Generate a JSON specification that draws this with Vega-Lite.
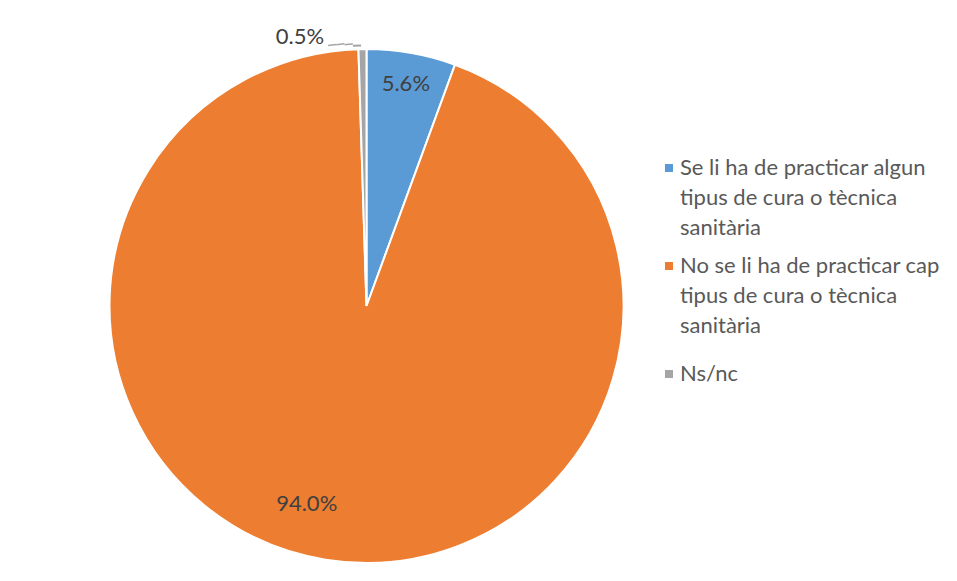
{
  "$schema": "https://vega.github.io/schema/vega-lite/v6.json",
  "width": 733,
  "height": 612,
  "autosize": "none",
  "padding": {"left": 0, "top": 0, "right": 224, "bottom": 0},
  "background": "white",
  "config": {"view": {"stroke": null}, "style": {"guide-label": {"lineHeight": 30}}},
  "data": {
    "values": [
      {"id": 1, "category": "Se li ha de practicar algun tipus de cura o tècnica sanitària", "share": 0.056},
      {"id": 2, "category": "No se li ha de practicar cap tipus de cura o tècnica sanitària", "share": 0.940},
      {"id": 3, "category": "Ns/nc", "share": 0.005}
    ]
  },
  "encoding": {
    "theta": {"field": "share", "type": "quantitative", "stack": true},
    "order": {"field": "id", "type": "quantitative"}
  },
  "layer": [
    {
      "mark": {"type": "arc", "outerRadius": 257, "stroke": "white", "strokeWidth": 2},
      "encoding": {
        "color": {
          "field": "category",
          "type": "nominal",
          "scale": {
            "domain": ["Se li ha de practicar algun tipus de cura o tècnica sanitària", "No se li ha de practicar cap tipus de cura o tècnica sanitària", "Ns/nc"],
            "range": ["#5B9BD5", "#ED7D31", "#A5A5A5"]
          },
          "legend": {
            "title": null,
            "orient": "none",
            "legendX": 658,
            "legendY": 157,
            "values": ["Se li ha de practicar algun tipus de cura o tècnica sanitària", "No se li ha de practicar cap tipus de cura o tècnica sanitària"],
            "symbolType": "square",
            "symbolSize": 64,
            "symbolStrokeWidth": 0,
            "labelFont": "Lato",
            "labelFontSize": 22,
            "labelColor": "#595959",
            "labelLimit": 400,
            "labelOffset": 0,
            "rowPadding": 16,
            "labelExpr": "indexof(datum.label, 'algun') > 0 ? ['Se li ha de practicar algun', 'tipus de cura o tècnica', 'sanitària'] : ['No se li ha de practicar cap', 'tipus de cura o tècnica', 'sanitària']",
            "encode": {"labels": {"update": {"lineHeight": {"value": 30}}}}
          }
        }
      }
    },
    {
      "mark": {"type": "arc", "innerRadius": 262.5, "outerRadius": 264, "thetaOffset": -0.115},
      "encoding": {
        "fill": {
          "field": "id",
          "type": "nominal",
          "scale": {"domain": [1, 2, 3], "range": ["#5B9BD5", "#ED7D31", "#A5A5A5"]},
          "legend": {
            "title": null,
            "orient": "none",
            "legendX": 658,
            "legendY": 363,
            "values": [3],
            "labelExpr": "'Ns/nc'",
            "symbolType": "square",
            "symbolSize": 64,
            "symbolStrokeWidth": 0,
            "labelFont": "Lato",
            "labelFontSize": 22,
            "labelColor": "#595959",
            "labelLimit": 400,
            "labelOffset": 0
          }
        },
        "opacity": {"condition": {"test": "datum.id == 3", "value": 1}, "value": 0}
      }
    },
    {
      "mark": {"type": "arc", "innerRadius": 262.3, "outerRadius": 263.8, "thetaOffset": -0.0836, "color": "#A5A5A5"},
      "encoding": {
        "opacity": {"condition": {"test": "datum.id == 3", "value": 1}, "value": 0}
      }
    },
    {
      "mark": {"type": "arc", "innerRadius": 261.5, "outerRadius": 263, "thetaOffset": -0.0522, "color": "#A5A5A5"},
      "encoding": {
        "opacity": {"condition": {"test": "datum.id == 3", "value": 1}, "value": 0}
      }
    },
    {
      "mark": {"type": "arc", "innerRadius": 259.5, "outerRadius": 261.5, "thetaOffset": -0.0208, "color": "#A5A5A5"},
      "encoding": {
        "opacity": {"condition": {"test": "datum.id == 3", "value": 1}, "value": 0}
      }
    },
    {
      "mark": {"type": "text", "radius": 225, "font": "Lato", "fontSize": 22, "color": "#404040"},
      "encoding": {
        "text": {"condition": {"test": "datum.id == 1", "field": "share", "type": "quantitative", "format": ".1%"}, "value": ""}
      }
    },
    {
      "mark": {"type": "text", "radius": 207, "thetaOffset": 0.133, "font": "Lato", "fontSize": 22, "color": "#404040"},
      "encoding": {
        "text": {"condition": {"test": "datum.id == 2", "field": "share", "type": "quantitative", "format": ".1%"}, "value": ""}
      }
    },
    {
      "mark": {"type": "text", "radius": 277, "thetaOffset": -0.227, "font": "Lato", "fontSize": 22, "color": "#404040"},
      "encoding": {
        "text": {"condition": {"test": "datum.id == 3", "field": "share", "type": "quantitative", "format": ".1%"}, "value": ""}
      }
    }
  ]
}
